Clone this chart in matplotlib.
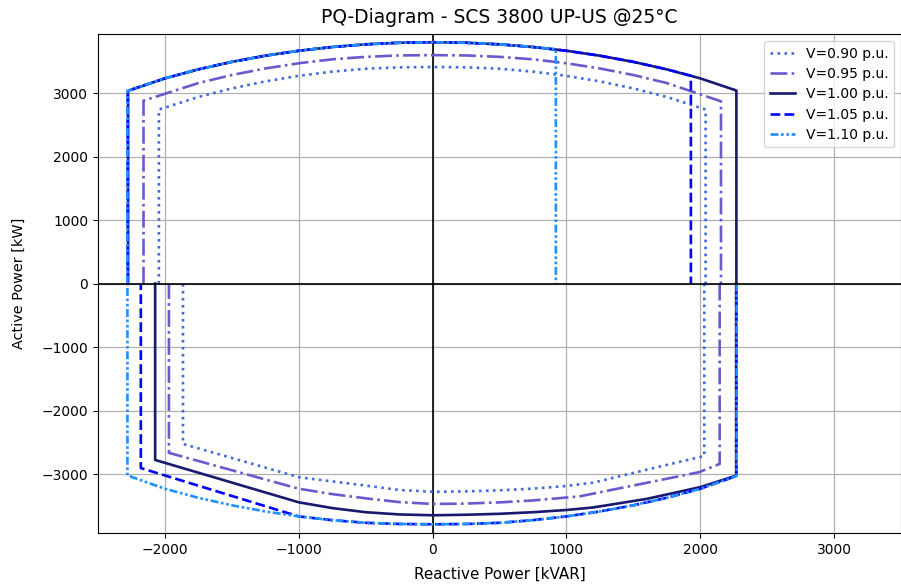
import matplotlib
matplotlib.use("Agg")
import matplotlib.pyplot as plt

# ---- data (Q in kVAR, P in kW) ----
labels = ["V=0.90 p.u.", "V=0.95 p.u.", "V=1.00 p.u.", "V=1.05 p.u.", "V=1.10 p.u."]

# upper half (generation, P >= 0)
qu_090 = [-2045, -2045, -1750, -1500, -1250, -1000, -750, -500, -250, 0,
          250, 500, 750, 1000, 1250, 1500, 1750, 2040, 2040]
pu_090 = [0, 2741, 2938, 3073, 3183, 3271, 3337, 3383, 3405, 3410,
          3405, 3383, 3337, 3271, 3183, 3073, 2938, 2741, 0]
# lower half (P <= 0)
ql_090 = [2030, 2030, 1600, 1200, 975, 750, 500, 250, 0, -250, -500, -750, -1000,
          -1865, -1865]
pl_090 = [0, -2715, -2930, -3135, -3192, -3228, -3255, -3272, -3278, -3250, -3180, -3115, -3049,
          -2525, 0]

qu_095 = [-2160, -2160, -1750, -1500, -1250, -1000, -750, -500, -250, 0,
          250, 500, 750, 1000, 1250, 1500, 1750, 2155, 2155]
pu_095 = [0, 2880, 3157, 3284, 3387, 3469, 3531, 3570, 3592, 3597,
          3592, 3570, 3531, 3469, 3387, 3284, 3157, 2870, 0]
ql_095 = [2145, 2145, 1991, 1100, 750, 500, 250, 0, -250, -461, -750, -1000,
          -1970, -1970]
pl_095 = [0, -2840, -2970, -3350, -3415, -3445, -3464, -3470, -3440, -3391, -3315, -3230,
          -2665, 0]

qu_100 = [-2275, -2275, -2000, -1750, -1500, -1250, -1000, -750, -500, -250, 0,
          250, 500, 750, 1000, 1250, 1500, 1750, 2000, 2270, 2270]
pu_100 = [0, 3035, 3231, 3373, 3491, 3588, 3666, 3725, 3767, 3792, 3800,
          3792, 3767, 3725, 3666, 3588, 3491, 3373, 3231, 3040, 0]
ql_100 = [2268, 2268, 2000, 1600, 1200, 1000, 750, 500, 250, 0, -250, -500, -750, -1000,
          -2073, -2073]
pl_100 = [0, -3024, -3205, -3390, -3525, -3565, -3600, -3625, -3640, -3648, -3635, -3600, -3535, -3444,
          -2777, 0]

qu_105 = [-2278, -2278, -2000, -1750, -1500, -1250, -1000, -750, -500, -250, 0,
          250, 500, 750, 1000, 1250, 1500, 1750, 1930, 1930]
pu_105 = [0, 3035, 3231, 3373, 3491, 3588, 3666, 3725, 3767, 3792, 3800,
          3792, 3767, 3725, 3666, 3588, 3491, 3373, 3273, 0]
ql_105 = [2270, 2270, 2000, 1750, 1500, 1250, 1000, 750, 500, 250, 0, -250, -500, -750, -1000,
          -2180, -2180]
pl_105 = [0, -3030, -3231, -3373, -3491, -3588, -3666, -3725, -3767, -3785, -3790, -3785, -3767, -3725, -3666,
          -2905, 0]

qu_110 = [-2280, -2280, -2000, -1750, -1500, -1250, -1000, -750, -500, -250, 0,
          250, 500, 750, 921, 921]
pu_110 = [0, 3035, 3231, 3373, 3491, 3588, 3666, 3725, 3767, 3792, 3800,
          3792, 3767, 3725, 3690, 0]
ql_110 = [2272, 2272, 2000, 1750, 1500, 1250, 1000, 750, 500, 250, 0, -250, -500, -750, -1000,
          -1250, -1500, -1750, -2000, -2280, -2280]
pl_110 = [0, -3030, -3231, -3373, -3491, -3588, -3666, -3725, -3767, -3785, -3790, -3785, -3767, -3725, -3666,
          -3588, -3491, -3373, -3231, -3020, 0]

upper = [(qu_090, pu_090), (qu_095, pu_095), (qu_100, pu_100), (qu_105, pu_105), (qu_110, pu_110)]
lower = [(ql_090, pl_090), (ql_095, pl_095), (ql_100, pl_100), (ql_105, pl_105), (ql_110, pl_110)]
colors = ["#4169E1", "#6A5ACD", "#191970", "#0000FF", "#1E90FF"]
styles = [":", "-.", "-", "--", (0, (3, 1, 1, 1, 1, 1))]

fig = plt.figure(figsize=(9.01, 5.85), dpi=100)
ax = fig.add_axes([98 / 901, 51.7 / 585, 803 / 901, 499 / 585])

for (qu, pu), (ql, pl), c, ls, lab in zip(upper, lower, colors, styles, labels):
    ax.plot(qu, pu, color=c, linestyle=ls, linewidth=1.9, label=lab, zorder=2)
    ax.plot(ql, pl, color=c, linestyle=ls, linewidth=1.9, zorder=2)

ax.axhline(0, color="black", linewidth=1.2, zorder=3)
ax.axvline(0, color="black", linewidth=1.2, zorder=1.5)
ax.grid(True, color="#b0b0b0", linewidth=0.9)
ax.set_axisbelow(True)

ax.set_xlim(-2500, 3500)
ax.set_ylim(-3932, 3925)
ax.set_xticks([-2000, -1000, 0, 1000, 2000, 3000])
ax.set_yticks([-3000, -2000, -1000, 0, 1000, 2000, 3000])
ax.tick_params(labelsize=10)

ax.set_title("PQ-Diagram - SCS 3800 UP-US @25°C", fontsize=13.5, pad=8)
ax.set_xlabel("Reactive Power [kVAR]", fontsize=10.9, labelpad=7)
ax.set_ylabel("Active Power [kW]", fontsize=10.4, labelpad=11)
ax.legend(loc="upper right", fontsize=10, handlelength=1.8, labelspacing=0.45)

fig.savefig("out.png", dpi=100)
